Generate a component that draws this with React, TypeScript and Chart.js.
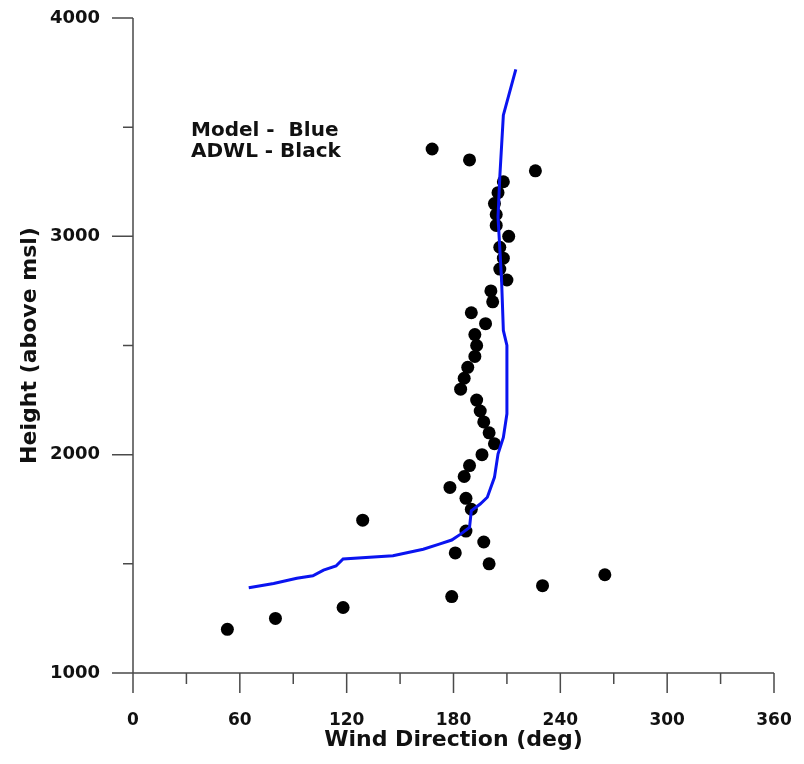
import React, { useEffect, useRef } from "react";
import { Chart, registerables } from "chart.js";

Chart.register(...registerables);

// ADWL observations (black dots)
const adwlDirection = [
  53, 80, 118, 179, 230, 265, 200, 181, 197, 187, 129, 190, 187, 178, 186, 189,
  196, 203, 200, 197, 195, 193, 184, 186, 188, 192, 193, 192, 198, 190, 202, 201,
  210, 206, 208, 206, 211, 204, 204, 203, 205, 208, 226, 189, 168,
];
const adwlHeight = [
  1200, 1250, 1300, 1350, 1400, 1450, 1500, 1550, 1600, 1650, 1700, 1750, 1800,
  1850, 1900, 1950, 2000, 2050, 2100, 2150, 2200, 2250, 2300, 2350, 2400, 2450,
  2500, 2550, 2600, 2650, 2700, 2750, 2800, 2850, 2900, 2950, 3000, 3050, 3100,
  3150, 3200, 3250, 3300, 3350, 3400,
];

// Model profile (blue line)
const modelDirection = [
  65, 79, 92, 101, 107, 114, 118, 146, 163, 172, 179, 184, 189, 190, 195, 199,
  203, 205, 208, 210, 210, 208, 207, 205, 206, 208, 215,
];
const modelHeight = [
  1390, 1410, 1434, 1445, 1471, 1490, 1522, 1537, 1567, 1590, 1609, 1636, 1667,
  1743, 1774, 1805, 1896, 2003, 2079, 2187, 2500, 2569, 2800, 3089, 3272, 3555,
  3765,
];

// Axis ticks
const xMajorTicks = [0, 60, 120, 180, 240, 300, 360];
const xMinorTicks = [30, 90, 150, 210, 270, 330];
const yMajorTicks = [1000, 2000, 3000, 4000];
const yMinorTicks = [1500, 2500, 3500];

const legendLines = ["Model -  Blue", "ADWL - Black"];

const FONT = '"DejaVu Sans", "Liberation Sans", Arial, sans-serif';

const axesPlugin = {
  id: "customAxes",
  beforeDatasetsDraw(chart: any) {
    const { ctx } = chart;
    const xs = chart.scales.x;
    const ys = chart.scales.y;
    const x0 = xs.getPixelForValue(0);
    const x1 = xs.getPixelForValue(360);
    const yb = ys.getPixelForValue(1000);
    const yt = ys.getPixelForValue(4000);
    ctx.save();
    ctx.strokeStyle = "#4a4a4a";
    ctx.lineWidth = 1.5;
    ctx.beginPath();
    // y axis
    ctx.moveTo(x0, yt);
    ctx.lineTo(x0, yb + 20);
    // x axis
    ctx.moveTo(x0 - 21, yb);
    ctx.lineTo(x1, yb);
    // y ticks
    yMajorTicks.forEach((v) => {
      const p = ys.getPixelForValue(v);
      ctx.moveTo(x0 - 21, p);
      ctx.lineTo(x0, p);
    });
    yMinorTicks.forEach((v) => {
      const p = ys.getPixelForValue(v);
      ctx.moveTo(x0 - 10, p);
      ctx.lineTo(x0, p);
    });
    // x ticks
    xMajorTicks.forEach((v) => {
      const p = xs.getPixelForValue(v);
      ctx.moveTo(p, yb);
      ctx.lineTo(p, yb + 20);
    });
    xMinorTicks.forEach((v) => {
      const p = xs.getPixelForValue(v);
      ctx.moveTo(p, yb);
      ctx.lineTo(p, yb + 11);
    });
    ctx.stroke();
    ctx.restore();
  },
  afterDraw(chart: any) {
    const { ctx, chartArea } = chart;
    ctx.save();
    ctx.fillStyle = "#111";
    ctx.font = `bold 20px ${FONT}`;
    ctx.textAlign = "left";
    ctx.textBaseline = "alphabetic";
    legendLines.forEach((t, i) => {
      ctx.fillText(t, chartArea.left + 58, chartArea.top + 118 + i * 21);
    });
    ctx.restore();
  },
};

export default function App() {
  const ref = useRef<HTMLCanvasElement | null>(null);

  useEffect(() => {
    if (!ref.current) return;
    const chart = new Chart(ref.current, {
      type: "scatter",
      data: {
        datasets: [
          {
            label: "Model",
            data: modelDirection.map((d, i) => ({ x: d, y: modelHeight[i] })),
            showLine: true,
            borderColor: "#0a14f0",
            backgroundColor: "#0a14f0",
            borderWidth: 3,
            pointRadius: 0,
            tension: 0,
            order: 0,
          },
          {
            label: "ADWL",
            data: adwlDirection.map((d, i) => ({ x: d, y: adwlHeight[i] })),
            showLine: false,
            pointRadius: 6.5,
            pointBackgroundColor: "#000",
            pointBorderColor: "#000",
            pointBorderWidth: 0,
            order: 1,
          },
        ],
      },
      options: {
        animation: false,
        responsive: false,
        events: [],
        layout: { padding: { top: 18, right: 30, bottom: 0, left: 0 } },
        plugins: {
          legend: { display: false },
          tooltip: { enabled: false },
        },
        scales: {
          x: {
            type: "linear",
            min: 0,
            max: 360,
            afterBuildTicks: (s: any) => {
              s.ticks = xMajorTicks.map((v) => ({ value: v }));
            },
            afterFit: (s: any) => {
              s.height = 91;
            },
            grid: { display: false, drawTicks: true, tickLength: 37, tickColor: "transparent" },
            border: { display: false },
            ticks: {
              autoSkip: false,
              maxRotation: 0,
              padding: 0,
              color: "#111",
              font: { family: FONT, size: 17, weight: "bold" },
              callback: (v: any) => String(v),
            },
            title: {
              display: true,
              text: "Wind Direction (deg)",
              color: "#111",
              font: { family: FONT, size: 22, weight: "bold" },
              padding: { top: 0, bottom: 11 },
            },
          },
          y: {
            type: "linear",
            min: 1000,
            max: 4000,
            afterBuildTicks: (s: any) => {
              s.ticks = yMajorTicks.map((v) => ({ value: v }));
            },
            afterFit: (s: any) => {
              s.width = 133;
            },
            grid: { display: false, drawTicks: true, tickLength: 33, tickColor: "transparent" },
            border: { display: false },
            ticks: {
              autoSkip: false,
              padding: 0,
              color: "#111",
              font: { family: FONT, size: 18, weight: "bold" },
              callback: (v: any) => String(v),
            },
            title: {
              display: true,
              text: "Height (above msl)",
              color: "#111",
              font: { family: FONT, size: 22, weight: "bold" },
              padding: { top: 17, bottom: 0 },
            },
          },
        },
      },
      plugins: [axesPlugin],
    });
    return () => chart.destroy();
  }, []);

  return (
    <div style={{ position: "absolute", left: 0, top: 0, width: 804, height: 764, background: "#fff" }}>
      <canvas ref={ref} width={804} height={764} style={{ display: "block" }} />
    </div>
  );
}
